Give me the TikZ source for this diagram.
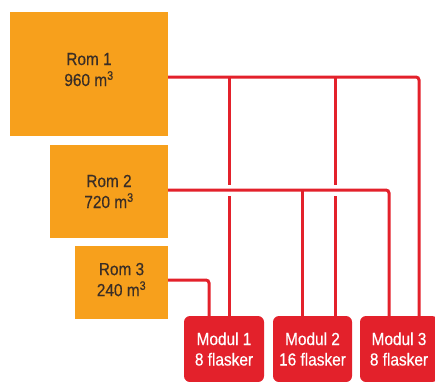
\documentclass[tikz,border=0pt]{standalone}
\usepackage{fontspec}
\setmainfont{Liberation Sans}[FakeStretch=0.88, FakeBold=0.4]
\usetikzlibrary{positioning}
\definecolor{romorange}{HTML}{F7A01C}
\definecolor{modulred}{HTML}{E3212B}
\definecolor{romtext}{HTML}{3A2E26}

\begin{document}
\begin{tikzpicture}[x=1pt, y=-1pt,
    rombox/.style={fill=romorange, text=romtext, inner sep=0pt, align=center,
      font=\fontsize{17.5}{21}\selectfont},
    modulbox/.style={fill=modulred, text=white, rounded corners=6pt, inner sep=0pt,
      align=center, minimum width=80pt, minimum height=66pt,
      font=\fontsize{17.5}{20.5}\selectfont},
    pipe/.style={draw=modulred, line width=3pt, rounded corners=3pt},
    gap/.style={draw=white, line width=11pt}]
  \useasboundingbox (0,0) rectangle (435,381);
  \clip (0,0) rectangle (435,381);

  % rooms
  \node[rombox, minimum width=158pt, minimum height=124pt, text depth=9pt] (rom1) at (89,74) {Rom 1\\960 m\textsuperscript{3}};
  \node[rombox, minimum width=118pt, minimum height=93pt] (rom2) at (109,191.5) {Rom 2\\720 m\textsuperscript{3}};
  \node[rombox, minimum width=93pt, minimum height=73pt, text depth=6pt] (rom3) at (121.5,282.5) {Rom 3\\240 m\textsuperscript{3}};

  % modules
  \node[modulbox] (modul1) at (224,349) {Modul 1\\8 flasker};
  \node[modulbox, minimum width=79pt] (modul2) at (312.5,349) {Modul 2\\16 flasker};
  \node[modulbox, minimum width=78pt] (modul3) at (399,349) {Modul 3\\8 flasker};

  \coordinate (m1a) at ([xshift=-15pt]modul1.north);
  \coordinate (m1b) at ([xshift=5pt]modul1.north);
  \coordinate (m2a) at ([xshift=-10.5pt]modul2.north);
  \coordinate (m2b) at ([xshift=22.5pt]modul2.north);
  \coordinate (m3a) at ([xshift=-10pt]modul3.north);
  \coordinate (m3b) at ([xshift=20pt]modul3.north);
  \coordinate (r1) at ([yshift=-3pt]rom1.east);
  \coordinate (r2) at ([yshift=1.5pt]rom2.east);
  \coordinate (r3) at ([yshift=2.5pt]rom3.east);

  % pipes from Rom 1
  \draw[pipe] (r1) -| (m3b);
  \draw[pipe] (m1b |- r1) -- (m1b);
  \draw[pipe] (m2b |- r1) -- (m2b);
  % pipes from Rom 2, crossing over
  \draw[gap] (r2) -- (m3a |- r2);
  \draw[pipe] (r2) -| (m3a);
  \draw[pipe] (m2a |- r2) -- (m2a);
  % pipe from Rom 3
  \draw[pipe] (r3) -| (m1a);
\end{tikzpicture}
\end{document}
